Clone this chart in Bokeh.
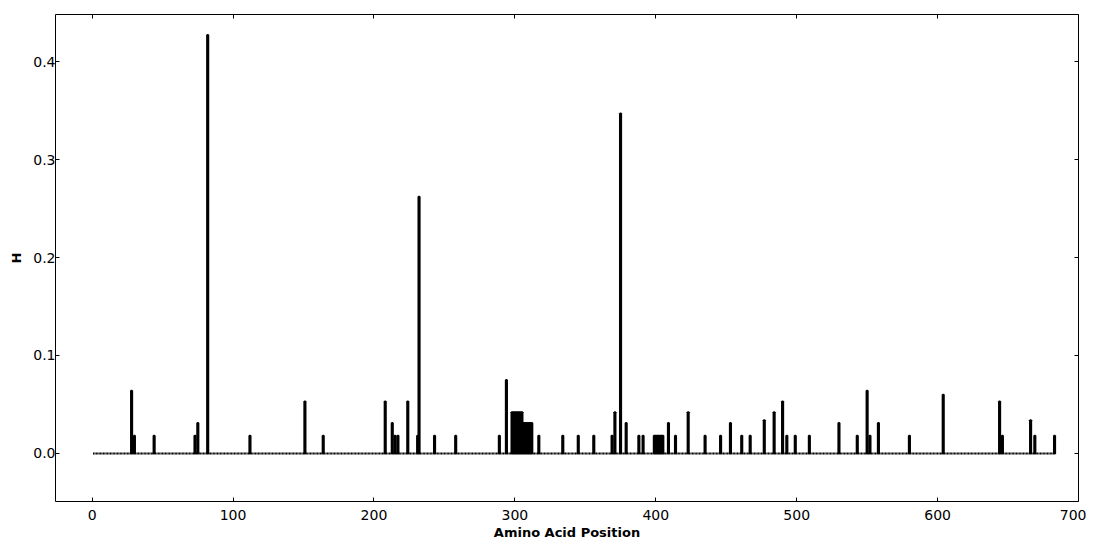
from bokeh.plotting import figure
from bokeh.models import LinearAxis, NumeralTickFormatter, FixedTicker, ColumnDataSource
from bokeh.embed import file_html
from bokeh.resources import INLINE

# ---- data ----
n_positions = 683  # protein length (positions 1..683)
peak_positions = [28, 30, 44, 73, 75, 82, 112, 151, 164, 208, 213, 215, 217, 224, 231, 232,
                  243, 258, 289, 294,
                  298, 299, 300, 301, 302, 303, 304, 305,
                  306, 307, 308, 309, 310, 311, 312,
                  317, 334, 345, 356, 369, 371, 375, 379, 388, 391,
                  399, 400, 401, 402, 403, 404, 405,
                  409, 414, 423, 435, 446, 453, 461, 467, 477, 484, 490, 493, 499, 509,
                  530, 543, 550, 552, 558, 580, 604, 644, 646, 666, 669, 683]
peak_values = [0.064, 0.018, 0.018, 0.018, 0.031, 0.427, 0.018, 0.053, 0.018, 0.053, 0.031, 0.018, 0.018, 0.053, 0.018, 0.262,
               0.018, 0.018, 0.018, 0.075,
               0.042, 0.042, 0.042, 0.042, 0.042, 0.042, 0.042, 0.042,
               0.031, 0.031, 0.031, 0.031, 0.031, 0.031, 0.031,
               0.018, 0.018, 0.018, 0.018, 0.018, 0.042, 0.347, 0.031, 0.018, 0.018,
               0.018, 0.018, 0.018, 0.018, 0.018, 0.018, 0.018,
               0.031, 0.018, 0.042, 0.018, 0.018, 0.031, 0.018, 0.018, 0.034, 0.042, 0.053, 0.018, 0.018, 0.018,
               0.031, 0.018, 0.064, 0.018, 0.031, 0.018, 0.060, 0.053, 0.018, 0.034, 0.018, 0.018]
x_ticks = [0, 100, 200, 300, 400, 500, 600, 700]
y_ticks = [0.0, 0.1, 0.2, 0.3, 0.4]

positions = list(range(1, n_positions + 1))
lookup = dict(zip(peak_positions, peak_values))
H = [lookup.get(pos, 0.0) for pos in positions]
src = ColumnDataSource(dict(x=positions, top=H))

FONT = "DejaVu Sans"
p = figure(output_backend="svg", toolbar_location=None,
           frame_width=1023, frame_height=487,
           x_range=(-26, 700), y_range=(-0.049, 0.448),
           min_border_left=55, min_border_top=14, min_border_right=8, min_border_bottom=4)
p.background_fill_color = "white"
p.border_fill_color = "white"
p.outline_line_color = "black"
p.outline_line_width = 1
p.xgrid.visible = False
p.ygrid.visible = False

p.vbar(x="x", top="top", bottom=0, width=0.8, source=src,
       fill_color="black", line_color="black", line_width=2)

def style(ax, labels=True):
    ax.axis_line_color = None
    ax.major_tick_in = 4
    ax.major_tick_out = 0
    ax.minor_tick_line_color = None
    ax.major_tick_line_color = "black"
    if labels:
        ax.major_label_text_font = FONT
        ax.major_label_text_font_size = "14px"
        ax.major_label_text_color = "black"
    else:
        ax.major_label_text_font_size = "1px"
        ax.major_label_standoff = 0

xa = p.xaxis[0]
xa.ticker = FixedTicker(ticks=x_ticks)
style(xa)
xa.major_label_standoff = 8
xa.axis_label = "Amino Acid Position"
xa.axis_label_text_font = FONT
xa.axis_label_text_font_style = "bold"
xa.axis_label_text_font_size = "13px"
xa.axis_label_text_color = "black"
xa.axis_label_standoff = 2

ya = p.yaxis[0]
ya.ticker = FixedTicker(ticks=y_ticks)
ya.formatter = NumeralTickFormatter(format="0.0")
style(ya)
ya.major_label_standoff = 0
ya.axis_label = "H"
ya.axis_label_text_font = FONT
ya.axis_label_text_font_style = "bold"
ya.axis_label_text_font_size = "13px"
ya.axis_label_text_color = "black"
ya.axis_label_standoff = 6

top_ax = LinearAxis(ticker=FixedTicker(ticks=x_ticks),
                    major_label_overrides={t: "" for t in x_ticks})
style(top_ax, labels=False)
p.add_layout(top_ax, "above")
right_ax = LinearAxis(ticker=FixedTicker(ticks=y_ticks),
                      major_label_overrides={t: "" for t in y_ticks})
style(right_ax, labels=False)
p.add_layout(right_ax, "right")

open("out.html", "w").write(file_html(p, INLINE))
